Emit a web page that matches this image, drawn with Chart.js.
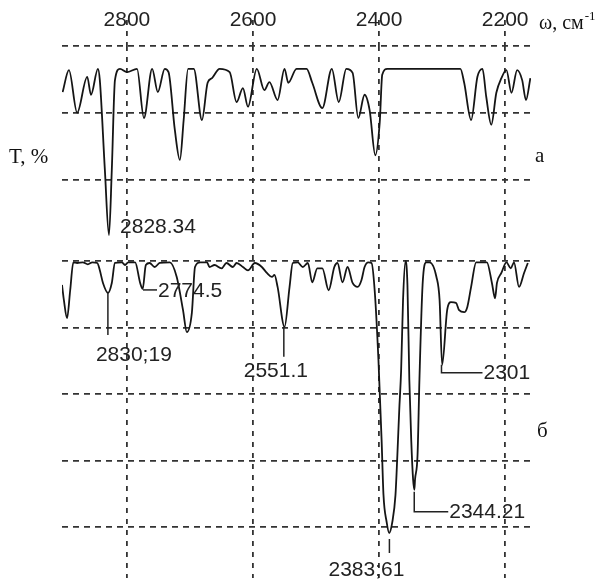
<!DOCTYPE html>
<html><head><meta charset="utf-8">
<script src="https://cdn.jsdelivr.net/npm/chart.js@4.4.0/dist/chart.umd.min.js"></script>
<style>html,body{margin:0;padding:0;background:#fff}#wrap{width:606px;height:581px;position:relative}</style>
</head><body><div id="wrap"><canvas id="c" width="606" height="581"></canvas></div>
<script>
const xTickValues = [2800, 2600, 2400, 2200];
const yGridValues = [0, 10, 20, 30, 40, 52.2, 62.3, 72.33];

// spectrum a (upper)
const topWavenumbers = [2902,2892,2879,2863,2857,2846,2843,2835,2828.5,2824,2819,2811,2800,2784,2773,2760,2751,2740,2734,2724,2716,2710,2703,2694,2681,2672,2665,2653,2637,2626,2616,2608,2594,2582,2574,2561,2550,2544,2531,2515,2506,2490,2475,2464,2452,2442,2433,2423,2415,2406,2399,2395,2387,2271,2265,2254,2244,2236,2230,2222,2214,2206,2198,2190,2181,2173,2167,2160];
const topValues = [65.4,68.7,62.3,67.7,65.0,68.9,67.2,53.7,43.9,53.7,67.2,68.9,68.4,68.9,61.5,68.9,65.4,68.9,68.4,59.7,55.2,61.2,68.9,68.9,61.2,66.8,67.5,68.9,68.4,63.9,66.0,63.2,68.9,65.7,66.9,64.2,68.9,66.8,68.9,68.9,66.8,63.0,68.9,63.9,68.9,68.3,61.5,65.0,62.7,55.9,60.8,68.0,68.9,68.9,66.8,61.2,67.7,68.9,64.7,60.5,65.3,67.5,68.7,65.3,68.7,67.2,64.2,67.5];

// spectrum б (lower)
const bottomWavenumbers = [2903,2900,2895,2890,2885,2879,2870,2862,2855,2847,2843,2838,2830,2824,2819,2808,2803,2798,2787,2779,2775,2770,2764,2756,2748,2732,2721,2711,2705,2697,2692,2684,2673,2669,2661,2650,2642,2632,2626,2616,2608,2597,2586,2578,2570,2566,2561,2550,2542,2537,2529,2521,2513,2506,2498,2490,2480,2471,2466,2458,2450,2442,2434,2428,2423,2417,2412,2407,2401,2396,2393,2388,2384,2379,2374,2371,2368,2365,2362,2358,2355,2352,2349,2346,2344,2343,2339,2336,2331,2325,2320,2309,2304,2300,2292,2286,2278,2273,2265,2260,2254,2246,2229,2221,2216,2213,2206,2198,2191,2186,2178,2170,2164];
const bottomValues = [36.4,34.1,31.4,35.6,39.8,39.7,39.8,39.5,39.8,39.7,38.6,36.7,35.2,36.7,39.7,39.8,39.4,39.8,39.8,36.7,35.8,39.4,39.7,39.1,39.7,39.8,37.6,32.6,29.3,32.2,39.1,39.8,39.8,39.1,39.4,38.9,39.7,39.1,39.7,39.1,38.6,39.7,39.1,38.2,37.6,37.9,36.1,30.1,36.1,39.7,39.8,39.1,39.7,36.8,38.9,38.9,35.6,39.1,39.7,36.8,39.1,36.7,36.1,37.1,39.1,39.8,39.7,35.6,25.1,13.1,4.8,0.75,-0.9,0.75,4.8,10.8,17.6,23.6,34.1,40.0,36.4,22.1,13.1,7.1,5.6,7.1,10.8,22.1,36.4,39.8,39.8,37.6,34.1,24.4,32.6,33.8,33.7,32.6,32.3,33.1,36.1,39.8,39.8,36.7,34.4,36.7,38.2,39.8,38.9,39.8,36.1,38.2,39.7];

// peak labels
const peakTexts = ['2828.34','2774.5','2830;19','2551.1','2301','2344.21','2383;61'];
const peakWavenumbers = [2828.34, 2774.5, 2830.19, 2551.1, 2301, 2344.21, 2383.61];
const peakValues = [43.9, 35.8, 35.2, 30.1, 24.4, 5.6, -0.9];

// leader layout (pixel offsets from peak)
const peakLayout = [
  {line: null, tx: 11, ty: -8, align: 'left'},
  {line: [[0,1],[14,1]], tx: 15, ty: 2, align: 'left'},
  {line: [[0,0],[0,42]], tx: -12, ty: 62, align: 'left'},
  {line: [[0,0],[0,30]], tx: -8, ty: 44, align: 'center'},
  {line: [[0,0],[0,8],[41,8]], tx: 42, ty: 8, align: 'left'},
  {line: [[0,2],[0,22],[34,22]], tx: 35, ty: 22, align: 'left'},
  {line: [[0,6],[0,20]], tx: -23, ty: 37, align: 'center'}
];

const toXY = (ws, vs) => ws.map((w, i) => ({x: w, y: vs[i]}));

const annotatePlugin = {
  id: 'annot',
  afterDatasetsDraw(chart) {
    const ctx = chart.ctx, xs = chart.scales.x, ys = chart.scales.y;
    ctx.save();
    ctx.strokeStyle = '#222';
    ctx.fillStyle = '#222';
    ctx.lineWidth = 1.5;
    ctx.font = '21px "Liberation Sans", Arial, sans-serif';
    ctx.textBaseline = 'middle';
    peakTexts.forEach((t, i) => {
      const px = xs.getPixelForValue(peakWavenumbers[i]);
      const py = ys.getPixelForValue(peakValues[i]);
      const L = peakLayout[i];
      if (L.line) {
        ctx.beginPath();
        L.line.forEach((p, k) => { k ? ctx.lineTo(px + p[0], py + p[1]) : ctx.moveTo(px + p[0], py + p[1]); });
        ctx.stroke();
      }
      ctx.textAlign = L.align;
      ctx.fillText(t, px + L.tx, py + L.ty);
    });
    // titles
    ctx.textAlign = 'left';
    ctx.textBaseline = 'alphabetic';
    ctx.fillStyle = '#111';
    ctx.font = '21px "Liberation Serif", "Times New Roman", serif';
    ctx.fillText('T, %', 9, 163);
    ctx.fillText('a', 535, 162);
    ctx.fillText('б', 537, 437);
    ctx.font = '20px "Liberation Serif", "Times New Roman", serif';
    ctx.fillText('ω, см', 539, 29);
    const w = ctx.measureText('ω, см').width;
    ctx.font = '13px "Liberation Serif", "Times New Roman", serif';
    ctx.fillText('-1', 539 + w + 1, 20);
    ctx.restore();
  }
};

const gridColor = '#333';
new Chart(document.getElementById('c'), {
  type: 'line',
  data: {
    datasets: [
      {data: toXY(topWavenumbers, topValues), borderColor: '#151515', borderWidth: 1.8, pointRadius: 0, cubicInterpolationMode: 'monotone', fill: false},
      {data: toXY(bottomWavenumbers, bottomValues), borderColor: '#151515', borderWidth: 1.8, pointRadius: 0, cubicInterpolationMode: 'monotone', fill: false}
    ]
  },
  options: {
    responsive: false, animation: false, devicePixelRatio: 1,
    layout: {padding: {left: 62, right: 75, top: 0, bottom: 3}},
    plugins: {legend: {display: false}, tooltip: {enabled: false}},
    scales: {
      x: {
        type: 'linear', position: 'top', reverse: true, min: 2159, max: 2903,
        afterBuildTicks: s => { s.ticks = xTickValues.map(v => ({value: v})); },
        afterFit: s => { s.height = 46; },
        grid: {color: gridColor, lineWidth: 1.8, drawTicks: true, tickLength: 26, tickBorderDash: [5, 6], tickColor: gridColor, tickWidth: 1.8},
        border: {display: false, dash: [5, 6]},
        ticks: {color: '#222', font: {family: '"Liberation Sans", Arial, sans-serif', size: 21}, padding: -13, maxRotation: 0, autoSkip: false, callback: v => String(v)}
      },
      y: {
        type: 'linear', min: -7.67, max: 72.33,
        afterBuildTicks: s => { s.ticks = yGridValues.map(v => ({value: v})); },
        afterFit: s => { s.width = 0; },
        grid: {color: gridColor, lineWidth: 1.8, drawTicks: false},
        border: {display: false, dash: [6, 5]},
        ticks: {display: false}
      }
    }
  },
  plugins: [annotatePlugin]
});
</script>
</body></html>
